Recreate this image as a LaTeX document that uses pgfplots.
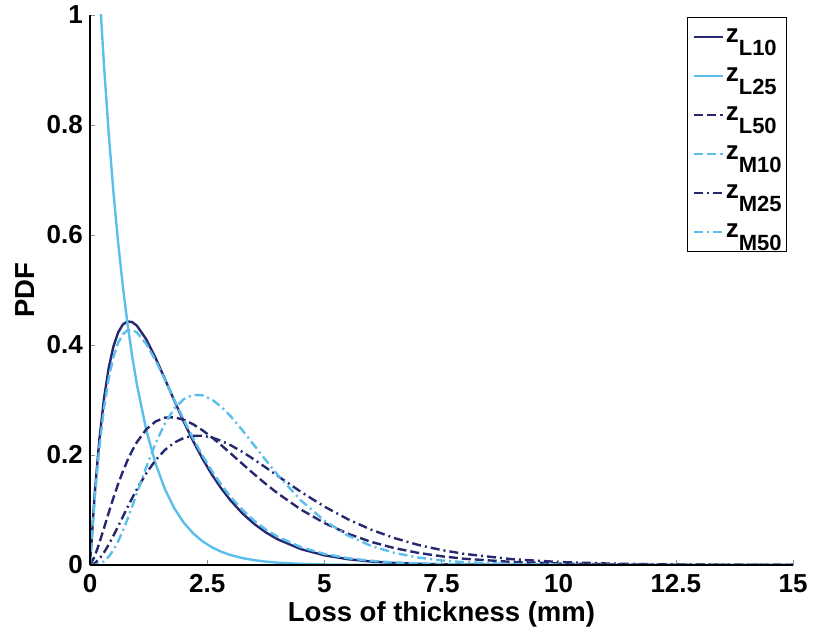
\documentclass[border=0pt]{standalone}
\usepackage{pgfplots}
\pgfplotsset{compat=1.18}
\usepackage{pgfplotstable}
\usepackage{fontspec}
\setmainfont{Liberation Sans}
\definecolor{navy}{RGB}{38,40,112}
\definecolor{sky}{RGB}{92,190,235}

\pgfplotstableread{
x A B C D E F
0 0 1.400 0 0 0 0
0.1 0.1287 1.211 0.0155 0.1204 0.0030 0.0002
0.2 0.2282 1.0476 0.0401 0.2143 0.0111 0.0020
0.3 0.3034 0.9062 0.0675 0.2862 0.0228 0.0067
0.4 0.3586 0.7839 0.0953 0.3397 0.0371 0.0151
0.5 0.3974 0.6781 0.1221 0.3780 0.0532 0.0272
0.6 0.4227 0.5865 0.1471 0.4038 0.0702 0.0430
0.7 0.4372 0.5074 0.1699 0.4194 0.0876 0.0619
0.8 0.4429 0.4389 0.1902 0.4267 0.1049 0.0833
0.9 0.4417 0.3797 0.2080 0.4274 0.1217 0.1063
1.0 0.4352 0.3284 0.2233 0.4227 0.1378 0.1302
1.2 0.4104 0.2457 0.2466 0.4019 0.1667 0.1779
1.4 0.3762 0.1839 0.2610 0.3716 0.1907 0.2214
1.6 0.3379 0.1376 0.2679 0.3366 0.2093 0.2576
1.8 0.2987 0.1029 0.2685 0.3000 0.2226 0.2845
2.0 0.2607 0.0770 0.2641 0.2643 0.2310 0.3016
2.2 0.2254 0.0576 0.2559 0.2304 0.2348 0.3093
2.4 0.1933 0.0431 0.2450 0.1991 0.2350 0.3085
2.6 0.1645 0.0323 0.2321 0.1710 0.2318 0.3009
2.8 0.1393 0.0241 0.2179 0.1459 0.2258 0.2878
3.0 0.1173 0.0181 0.2029 0.1239 0.2179 0.2706
3.25 0.0940 0.0126 0.1840 0.1004 0.2057 0.2453
3.5 0.0749 0.0088 0.1653 0.0808 0.1920 0.2180
3.75 0.0594 0.0061 0.1474 0.0647 0.1773 0.1907
4.0 0.0469 0.0042 0.1306 0.0516 0.1623 0.1643
4.5 0.0289 0.0021 0.1008 0.0325 0.1330 0.1174
5.0 0.0176 0.0010 0.0764 0.0202 0.1063 0.0808
5.5 0.0106 0.0005 0.0570 0.0124 0.0833 0.0536
6.0 0.0063 0.0002 0.0420 0.0076 0.0642 0.0347
6.5 0.0037 0.0001 0.0306 0.0046 0.0488 0.0219
7.0 0.0022 0 0.0221 0.0028 0.0366 0.0136
7.5 0.0013 0 0.0159 0.0017 0.0272 0.0083
8.0 0.0008 0 0.0113 0.0010 0.0200 0.0050
9.0 0.0002 0 0.0056 0.0003 0.0106 0.0017
10 0 0 0.0028 0.0001 0.0055 0.0006
11 0 0 0.0013 0 0.0028 0.0002
12 0 0 0.0006 0 0.0014 0.0001
13 0 0 0.0003 0 0.0007 0
14 0 0 0.0001 0 0.0003 0
15 0 0 0.0001 0 0.0002 0
}\pdfdata

\newcommand{\ent}[1]{\rule[-13.5pt]{0pt}{39pt}z\raisebox{-13pt}{\fontsize{22}{22}\selectfont #1}}

\begin{document}
\begin{tikzpicture}
\path[use as bounding box] (-90pt,-72pt) rectangle (724pt,565pt);
\begin{axis}[
  at={(0pt,0pt)}, anchor=south west,
  scale only axis, width=703pt, height=550pt,
  xmin=0, xmax=15, ymin=0, ymax=1,
  axis x line*=bottom, axis y line*=left,
  axis line style={black, line width=1.5pt},
  axis on top,
  xtick={0,2.5,5,7.5,10,12.5,15},
  xticklabels={0,2.5,5,7.5,10,12.5,15},
  ytick={0,0.2,0.4,0.6,0.8,1},
  yticklabels={0,0.2,0.4,0.6,0.8,1},
  tick align=inside, major tick length=5pt,
  tick style={black!45, line width=0.6pt},
  /pgf/number format/assume math mode=true,
  ticklabel style={font=\fontsize{26}{26}\selectfont\bfseries},
  xticklabel style={anchor=north, inner sep=0pt, yshift=-9pt},
  yticklabel style={anchor=east, inner sep=0pt, xshift=-7pt},
  xlabel={Loss of thickness (mm)},
  ylabel={PDF},
  label style={font=\fontsize{27.5}{27.5}\selectfont\bfseries},
  xlabel style={at={(axis description cs:0.5,-0.0891)}, anchor=center},
  ylabel style={at={(axis description cs:-0.0925,0.5)}, anchor=center},
  legend cell align=left,
  legend image code/.code={\draw[#1] (0pt,0pt) -- (29pt,0pt);},
  legend style={at={(axis description cs:1,1)}, anchor=north east,
    xshift=-6pt, yshift=-2pt, draw=black, line width=0.8pt,
    inner xsep=5pt, inner ysep=0pt, row sep=0pt, column sep=2pt,
    nodes={inner sep=0pt, text depth={}},
    font=\fontsize{26}{26}\selectfont\bfseries},
]
\addplot[navy, line width=2.4pt] table[x=x,y=A] {\pdfdata};
\addlegendentry{\ent{L10}}
\addplot[sky, line width=2.4pt] table[x=x,y=B] {\pdfdata};
\addlegendentry{\ent{L25}}
\addplot[navy, line width=2.4pt, dash pattern=on 9pt off 4pt] table[x=x,y=C] {\pdfdata};
\addlegendentry{\ent{L50}}
\addplot[sky, line width=2.4pt, dash pattern=on 9pt off 4pt] table[x=x,y=D] {\pdfdata};
\addlegendentry{\ent{M10}}
\addplot[navy, line width=2.4pt, dash pattern=on 9pt off 4pt on 2pt off 4pt] table[x=x,y=E] {\pdfdata};
\addlegendentry{\ent{M25}}
\addplot[sky, line width=2.4pt, dash pattern=on 9pt off 4pt on 2pt off 4pt] table[x=x,y=F] {\pdfdata};
\addlegendentry{\ent{M50}}
\end{axis}
\end{tikzpicture}
\end{document}
